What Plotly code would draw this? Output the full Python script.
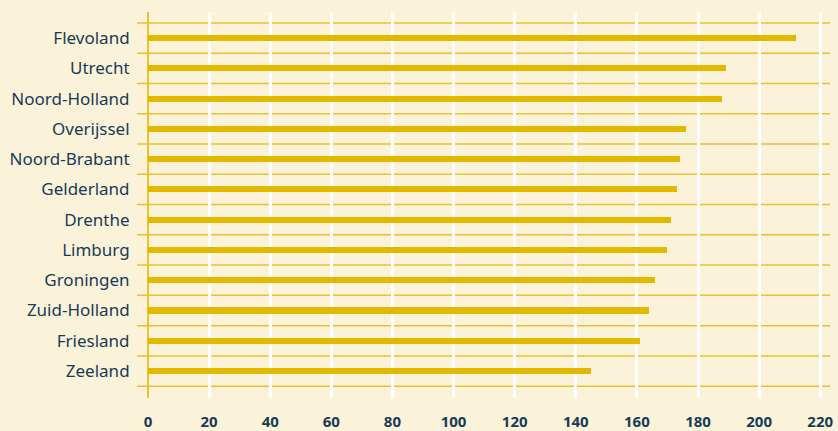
import plotly.graph_objects as go

provinces = ["Flevoland", "Utrecht", "Noord-Holland", "Overijssel", "Noord-Brabant",
             "Gelderland", "Drenthe", "Limburg", "Groningen", "Zuid-Holland",
             "Friesland", "Zeeland"]
values = [212, 189, 188, 176, 174, 173, 171, 170, 166, 164, 161, 145]
x_ticks = [0, 20, 40, 60, 80, 100, 120, 140, 160, 180, 200, 220]

bg = "#fbf3d9"
gold = "#e5b800"
text_col = "#173b57"

cats = provinces[::-1]
vals = values[::-1]

fig = go.Figure()
fig.add_trace(go.Bar(
    x=vals, y=cats, orientation="h",
    marker=dict(color=gold, line=dict(width=0)),
    width=0.2, hoverinfo="x+y",
))

shapes = []
for k in range(len(cats) + 1):
    shapes.append(dict(type="line", xref="paper", yref="y",
                       x0=0, x1=1, y0=k - 0.5, y1=k - 0.5,
                       line=dict(color="#e9c131", width=1.5), layer="below"))

fig.update_layout(
    width=838, height=431,
    paper_bgcolor=bg, plot_bgcolor=bg,
    margin=dict(l=137, r=8, t=12, b=33),
    showlegend=False,
    shapes=shapes,
    font=dict(family="Noto Sans", color=text_col),
    xaxis=dict(
        range=[-3.6, 223.2],
        tickvals=x_ticks, ticktext=[str(v) for v in x_ticks],
        showgrid=True, gridcolor="#ffffff", gridwidth=2.5,
        zeroline=True, zerolinecolor="#e9c131", zerolinewidth=2,
        showline=False, automargin=False,
        ticks="outside", ticklen=10, tickcolor="rgba(0,0,0,0)",
        tickfont=dict(size=15, color=text_col, family="Noto Sans", weight="bold"),
        fixedrange=True,
    ),
    yaxis=dict(
        categoryorder="array", categoryarray=cats,
        range=[-0.89, len(cats) - 1 + 0.86],
        showgrid=False, zeroline=False, showline=False, automargin=False,
        ticks="outside", ticklen=3, tickcolor="rgba(0,0,0,0)",
        tickfont=dict(size=17, color=text_col, family="Noto Sans"),
        fixedrange=True,
    ),
    bargap=0,
)

fig.write_html("out.html",
               config={"displayModeBar": False},
               post_script="document.body.style.margin='0';document.body.style.background='%s';" % bg)
